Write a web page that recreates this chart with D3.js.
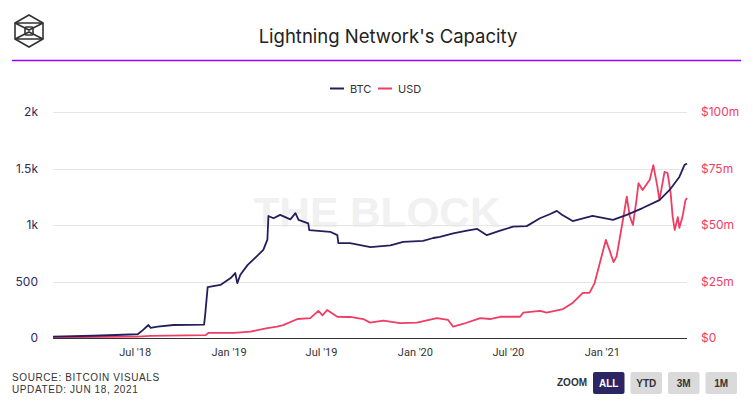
<!DOCTYPE html>
<html><head><meta charset="utf-8">
<script src="https://cdn.jsdelivr.net/npm/d3@7"></script>
<style>
body{margin:0;background:#fff;}
svg{display:block;font-family:Inter,"Open Sans",sans-serif;}
</style></head>
<body><svg id="c" width="753" height="406"></svg>
<script>
const btcDates = ["2018-01-22","2018-04-11","2018-07-07","2018-07-17","2018-07-28","2018-08-01","2018-08-15","2018-09-15","2018-11-14","2018-11-16","2018-11-21","2018-12-16","2019-01-05","2019-01-14","2019-01-18","2019-01-24","2019-02-07","2019-02-28","2019-03-10","2019-03-18","2019-03-20","2019-03-30","2019-04-12","2019-04-22","2019-05-02","2019-05-12","2019-05-18","2019-06-06","2019-06-08","2019-07-19","2019-08-02","2019-08-04","2019-08-27","2019-10-06","2019-11-14","2019-12-09","2020-01-17","2020-02-06","2020-02-19","2020-03-16","2020-04-12","2020-05-02","2020-05-21","2020-06-16","2020-07-11","2020-08-07","2020-09-02","2020-09-21","2020-10-05","2020-10-15","2020-11-05","2020-12-14","2021-01-23","2021-02-19","2021-03-22","2021-04-24","2021-05-14","2021-06-02","2021-06-12","2021-06-17"];
const btcValues = [12,20,33,70,115,90,100,115,118,200,450,470,530,575,485,560,645,735,780,870,1080,1060,1090,1070,1050,1105,1045,1015,955,940,910,840,840,805,820,850,860,885,895,925,950,965,910,950,985,990,1060,1095,1125,1090,1035,1080,1045,1090,1150,1220,1310,1425,1530,1545];

const usdDates = ["2018-01-22","2018-07-07","2018-08-01","2018-11-17","2018-11-23","2019-01-11","2019-02-13","2019-03-18","2019-04-06","2019-04-18","2019-05-16","2019-06-10","2019-06-26","2019-07-04","2019-07-13","2019-08-02","2019-08-27","2019-09-22","2019-10-05","2019-10-31","2019-12-03","2020-01-05","2020-02-13","2020-03-06","2020-03-16","2020-04-04","2020-05-08","2020-05-27","2020-06-16","2020-07-25","2020-07-31","2020-09-02","2020-09-15","2020-10-17","2020-11-05","2020-11-25","2020-12-08","2020-12-18","2020-12-28","2021-01-09","2021-01-16","2021-01-24","2021-01-30","2021-02-09","2021-02-19","2021-02-25","2021-03-03","2021-03-10","2021-03-14","2021-03-22","2021-04-05","2021-04-12","2021-04-20","2021-04-24","2021-05-04","2021-05-10","2021-05-16","2021-05-20","2021-05-24","2021-05-30","2021-06-02","2021-06-08","2021-06-14","2021-06-17"];
const usdValues = [0.3,0.6,0.9,1.3,2.3,2.3,2.8,4.4,5,5.7,8.4,8.8,12,10,12.4,9.4,9.3,8.4,6.8,7.7,6.6,6.8,8.8,8,5,6.2,8.8,8.4,9.4,9.4,11.2,12,11.2,12.8,15.5,20,20,24.3,33,43.4,39,33.6,36,49,62.5,53.7,50,61,68.5,65.5,70,76.5,67,61,73.5,73,64,53.5,47.8,53.5,48.7,53.5,61,62];

const btcTicks = [0,500,1000,1500,2000];
const usdTicks = [0,25,50,75,100];
const xTickDates = ["2018-07-01","2019-01-01","2019-07-01","2020-01-01","2020-07-01","2021-01-01"];
const zoomButtons = ["ALL","YTD","3M","1M"];

const parse = d3.utcParse("%Y-%m-%d");
const btc = btcDates.map((d,i)=>({date:parse(d),v:btcValues[i]}));
const usd = usdDates.map((d,i)=>({date:parse(d),v:usdValues[i]}));

const svg = d3.select("#c");
const L=53, R=687, T=112, B=338;
const x = d3.scaleUtc().domain([parse("2018-01-22"),parse("2021-06-17")]).range([L,R]);
const yL = d3.scaleLinear().domain([0,2000]).range([B,T]);
const yR = d3.scaleLinear().domain([0,100]).range([B,T]);

// logo
const lg = svg.append("g").attr("transform","translate(29,31)").attr("fill","none").attr("stroke","#333").attr("stroke-width",1.6);
const hx = [[0,-16],[14,-8],[14,8],[0,16],[-14,8],[-14,-8]];
lg.append("polygon").attr("points",hx.map(p=>p.join(",")).join(" "));
lg.append("polygon").attr("points","-14,-8 0,-1 14,-8");
lg.append("polygon").attr("points","-14,8 0,1 14,8");
lg.append("rect").attr("x",-4).attr("y",-4).attr("width",8).attr("height",8).attr("rx",1);

// title
svg.append("text").attr("x",388).attr("y",43).attr("text-anchor","middle").attr("font-size",18.5).attr("fill","#222").attr("font-family","Inter,sans-serif").text("Lightning Network's Capacity");
svg.append("line").attr("x1",12).attr("x2",741).attr("y1",60.5).attr("y2",60.5).attr("stroke","#9d00f5").attr("stroke-width",1.5);

// legend
const leg = svg.append("g").attr("font-size",11).attr("fill","#333");
[[330,"BTC","#241f5c"],[378,"USD","#ef3d63"]].forEach(([lx,t,c])=>{
  leg.append("line").attr("x1",lx).attr("x2",lx+14).attr("y1",88.5).attr("y2",88.5).attr("stroke",c).attr("stroke-width",2);
  leg.append("text").attr("x",lx+20).attr("y",92.5).attr("fill","#333").text(t);
});

// watermark
svg.append("text").attr("x",377).attr("y",227).attr("text-anchor","middle").attr("font-size",43).attr("font-weight","bold").attr("fill","#f1f1f1").attr("font-family","'Liberation Sans',Arial,sans-serif").attr("textLength",247).attr("lengthAdjust","spacingAndGlyphs").text("THE BLOCK");

// grid
svg.append("g").selectAll("line").data(btcTicks.slice(1)).join("line")
  .attr("x1",L).attr("x2",R).attr("y1",d=>Math.round(yL(d))+0.5).attr("y2",d=>Math.round(yL(d))+0.5)
  .attr("stroke","#e6e6e6").attr("stroke-width",1);

// left axis
const fmtK = d=> d===0?"0": d>=1000? d3.format("~g")(d/1000)+"k" : String(d);
const la = svg.append("g").attr("transform",`translate(${L},0)`).call(d3.axisLeft(yL).tickValues(btcTicks).tickFormat(fmtK).tickSize(0).tickPadding(15));
la.select(".domain").remove();
la.selectAll("text").attr("fill","#2c2a5e").attr("font-size",12).attr("font-family","Inter,sans-serif");

// right axis
const ra = svg.append("g").attr("transform",`translate(${R},0)`).call(d3.axisRight(yR).tickValues(usdTicks).tickFormat(d=>d===0?"$0":"$"+d+"m").tickSize(0).tickPadding(14));
ra.select(".domain").remove();
ra.selectAll("text").attr("fill","#ef3d63").attr("font-size",12).attr("font-family","Inter,sans-serif");

// bottom axis
const fmtX = d3.utcFormat("%b '%y");
const ba = svg.append("g").attr("transform",`translate(0,${B})`).call(d3.axisBottom(x).tickValues(xTickDates.map(parse)).tickFormat(fmtX).tickSize(0).tickPadding(10));
ba.select(".domain").remove();
ba.selectAll("text").attr("fill","#333").attr("font-size",11).attr("font-family","'Liberation Sans Narrow','Roboto',sans-serif");

// lines
svg.append("path").datum(usd).attr("fill","none").attr("stroke","#ef3d63").attr("stroke-width",1.8).attr("stroke-linejoin","round")
  .attr("d",d3.line().x(d=>x(d.date)).y(d=>yR(d.v)));
svg.append("path").datum(btc).attr("fill","none").attr("stroke","#241f5c").attr("stroke-width",1.8).attr("stroke-linejoin","round")
  .attr("d",d3.line().x(d=>x(d.date)).y(d=>yL(d.v)));

// baseline
svg.append("line").attr("x1",L).attr("x2",R).attr("y1",B+0.5).attr("y2",B+0.5).attr("stroke","#333").attr("stroke-width",1);

// footer
const ft = svg.append("g").attr("font-size",10).attr("fill","#333").attr("font-family","'Liberation Sans','Roboto',sans-serif").attr("letter-spacing",0.6);
ft.append("text").attr("x",12).attr("y",381).text("SOURCE: BITCOIN VISUALS");
ft.append("text").attr("x",12).attr("y",393).text("UPDATED: JUN 18, 2021");

// zoom buttons
svg.append("text").attr("x",557).attr("y",386).attr("font-size",10).attr("font-weight","bold").attr("fill","#333").attr("font-family","'Liberation Sans',sans-serif").text("ZOOM");
const bx = d3.scaleBand().domain(zoomButtons).range([593,737]).paddingInner(0.16);
const bg = svg.append("g").selectAll("g").data(zoomButtons).join("g").attr("transform",d=>`translate(${bx(d)},372)`);
bg.append("rect").attr("width",bx.bandwidth()).attr("height",22).attr("rx",2).attr("fill",(d,i)=>i===0?"#2c2563":"#dadada");
bg.append("text").attr("x",bx.bandwidth()/2).attr("y",15).attr("text-anchor","middle").attr("font-size",10).attr("font-weight","bold")
  .attr("font-family","'Liberation Sans',sans-serif").attr("fill",(d,i)=>i===0?"#fff":"#333").text(d=>d);
</script></body></html>
